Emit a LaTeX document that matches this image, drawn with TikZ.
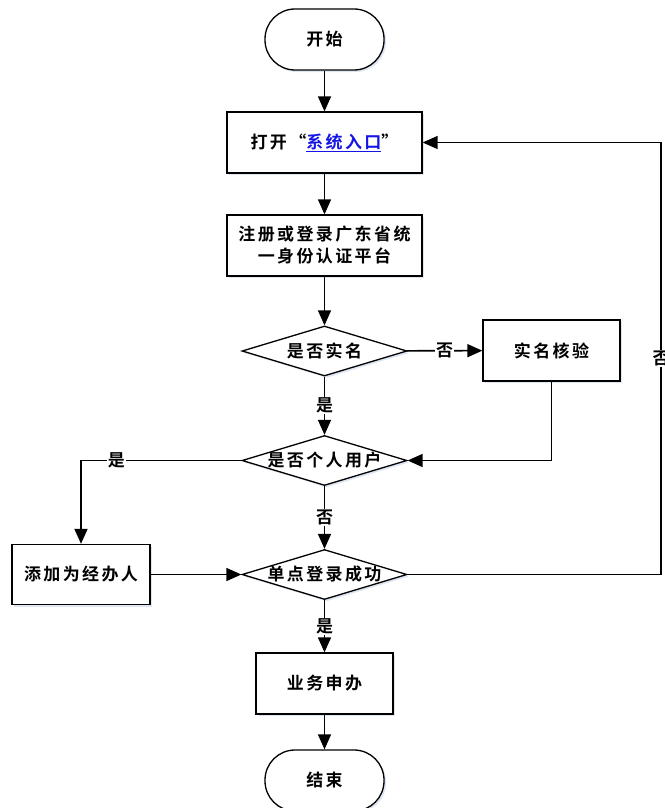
\documentclass[tikz,border=0pt]{standalone}
\usepackage{fontspec}
\newfontfamily\cjk[LetterSpace=14,BoldFont={Noto Sans CJK SC Bold}]{Noto Sans CJK SC}
\usetikzlibrary{arrows.meta,shapes.geometric,shadows}
\definecolor{shadowblue}{RGB}{190,205,230}
\definecolor{linkblue}{RGB}{20,20,230}
\begin{document}
\begin{tikzpicture}[x=1pt,y=-1pt,
  every node/.style={font=\cjk\bfseries\fontsize{17}{22}\selectfont},
  shade/.style={drop shadow={shadow xshift=2pt,shadow yshift=-2pt,opacity=0.5,fill=shadowblue}},
  term/.style={draw,line width=1.3pt,rounded corners=30pt,minimum width=119pt,minimum height=61pt,fill=white,shade},
  procbox/.style={draw,line width=1.3pt,minimum width=195pt,minimum height=61pt,fill=white,shade},
  dia/.style={draw,line width=1.3pt,diamond,inner sep=0pt,minimum width=165pt,minimum height=50pt,fill=white,shade},
  conn/.style={line width=1.6pt,-{Triangle[length=15pt,width=13pt]}},
  lab/.style={fill=white,inner sep=1pt}]
\useasboundingbox (0,0) rectangle (664,808);
\node[term] (start) at (324.5,39.5) {开始};
\node[procbox] (open) at (324.5,142.5) {打开“{\color{linkblue}\underline{系统入口}}”};
\node[procbox,align=center] (reg) at (324.5,245.5) {注册或登录广东省统\\一身份认证平台};
\node[dia,label={center:是否实名}] (d1) at (324.5,351) {};
\node[procbox,minimum width=137pt] (verify) at (551.5,350.5) {实名核验};
\node[dia,label={center:是否个人用户}] (d2) at (324.5,460.5) {};
\node[procbox,minimum width=138pt,minimum height=60pt] (agent) at (81,574.5) {添加为经办人};
\node[dia,label={center:单点登录成功}] (d3) at (324.5,574.5) {};
\node[procbox,minimum width=137pt] (biz) at (324.5,683.5) {业务申办};
\node[term] (stop) at (324.5,780.5) {结束};
\coordinate (r1) at (661,574.5);
\coordinate (r2) at (661,142.5);

\draw[conn] (start) -- (open);
\draw[conn] (open) -- (reg);
\draw[conn] (reg) -- (d1);
\draw[conn] (d1) -- node[lab]{否} (verify);
\draw[conn] (d1) -- node[lab]{是} (d2);
\draw[conn] (verify.south) |- (d2.east);
\draw[conn] (d2.west) -| node[lab,pos=0.39]{是} (agent.north);
\draw[conn] (d2) -- node[lab]{否} (d3);
\draw[conn] (agent) -- (d3);
\draw[conn] (d3.east) -- (r1) -- node[lab]{否} (r2) -- (open.east);
\draw[conn] (d3) -- node[lab]{是} (biz);
\draw[conn] (biz) -- (stop);
\end{tikzpicture}
\end{document}
